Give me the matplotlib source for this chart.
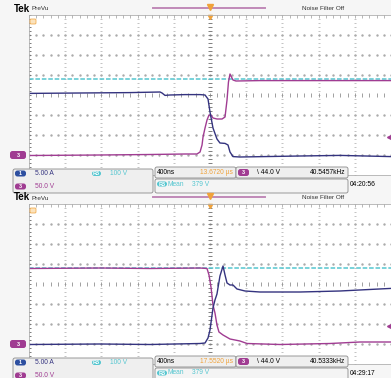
import numpy as np
import matplotlib
matplotlib.use('Agg')
import matplotlib.pyplot as plt
from matplotlib.patches import FancyBboxPatch

plt.rcParams['font.family'] = ['Liberation Sans', 'DejaVu Sans']

# scope settings
NS_PER_DIV = 400
AMP_PER_DIV = 5.0
VOLT_PER_DIV = 50.0
REF_PER_DIV = 100.0
GND_DIV = -3.0
REF_MEAN = 379.0
TRIG_LEVEL = 44.0

# turn-off capture (upper screen), time in ns
off_i_t = [-2000, -1436, -884, -552, -530, -497, -442, -276, -110, -55, -22, 0, 33, 77,
           110, 166, 199, 221, 254, 331, 994, 1436, 2000]
off_i_a = [15.4, 15.5, 15.6, 15.75, 15.5, 14.9, 15.0, 15.1, 15.1, 15.0, 14.0, 10.75, 6.75, 4.0,
           3.0, 2.9, 2.5, 0.75, -0.4, -0.5, -0.25, -0.1, -0.4]
off_v_t = [-2000, -1215, -663, -276, -144, -110, -88, -77, -55, -33, -11, 11, 33, 77, 133,
           166, 188, 204, 221, 254, 287, 552, 2000]
off_v_v = [-1.25, 0, 1.25, 2.5, 2.5, 7.5, 25, 45, 67.5, 87.5, 100, 100, 92.5, 90, 90,
           95, 137.5, 182.5, 202.5, 187.5, 185, 186, 186]

# turn-on capture (lower screen)
on_i_t = [-2000, -1215, -663, -110, -55, -22, 0, 33, 55, 77, 110, 144, 166, 188, 221, 254,
          298, 387, 552, 994, 1436, 2000]
on_i_a = [-0.125, 0, -0.125, 0.125, 0.25, 1.5, 3.5, 9, 11, 12.5, 17, 19.5, 17.25, 15.25, 14.75,
          14.75, 13.75, 13.25, 13, 13, 13.25, 13.9]
on_v_t = [-2000, -1215, -663, -110, -33, -11, 11, 33, 55, 77, 99, 144, 221, 331, 409, 773,
          1326, 1657, 2000]
on_v_v = [188.75, 190, 188.75, 190, 188.75, 172.5, 142.5, 97.5, 77.5, 47.5, 30, 22.5, 12.5,
          7.5, 1.25, -1.25, 1.25, 5, 5]

screens = [
    dict(it=off_i_t, ia=off_i_a, vt=off_v_t, vv=off_v_v, dy=0,
         pos='13.6720 \u00b5s', freq='40.5457kHz', clock='04:20:56'),
    dict(it=on_i_t, ia=on_i_a, vt=on_v_t, vv=on_v_v, dy=189,
         pos='17.5520 \u00b5s', freq='40.5333kHz', clock='04:29:17'),
]

NAVY = '#34337f'
PURPLE = '#a03c92'
CYAN = '#55c6d0'
ORANGE = '#f0a23a'
GRID = '#ababab'
W, H = 391, 378

fig = plt.figure(figsize=(W / 100, H / 100), dpi=100)
fig.patch.set_facecolor('#f6f6f6')

deco = fig.add_axes([0, 0, 1, 1], zorder=5)
deco.set_xlim(0, W)
deco.set_ylim(H, 0)
deco.axis('off')


def badge(x, y, w, h, label, color):
    deco.add_patch(FancyBboxPatch((x, y), w, h, boxstyle='round,pad=0,rounding_size=2.5',
                                  fc=color, ec='none'))
    deco.text(x + w / 2, y + h / 2 + 0.3, label, color='white', fontsize=4, ha='center',
              va='center', fontweight='bold')


def box(x, y, w, h, fc='#efefef'):
    deco.add_patch(FancyBboxPatch((x, y), w, h, boxstyle='round,pad=0,rounding_size=2',
                                  fc=fc, ec='#8a8a8a', lw=0.6))


for s in screens:
    dy = s['dy']
    top = 15 + dy
    ax = fig.add_axes([29 / W, 1 - (top + 160) / H, 362 / W, 160 / H], zorder=1)
    ax.set_xlim(-5 * NS_PER_DIV, 5 * NS_PER_DIV)
    ax.set_ylim(-4, 4)
    ax.set_xticks([])
    ax.set_yticks([])
    ax.set_facecolor('white')
    for sp in ax.spines.values():
        sp.set_color('#b0b0b0')
        sp.set_linewidth(0.6)

    # graticule
    xminor = np.arange(-2000, 2001, NS_PER_DIV / 5)
    yminor = np.arange(-4, 4.01, 0.2)
    for gy in [-3, -2, -1, 1, 2, 3]:
        ax.plot(xminor, np.full(len(xminor), gy), ls='none', marker='s', ms=0.7, color=GRID)
    for gx in [-1600, -1200, -800, -400, 400, 800, 1200, 1600]:
        ax.plot(np.full(len(yminor), gx), yminor, ls='none', marker='_', ms=1.8, mew=0.5,
                color=GRID)
    ax.plot(xminor, np.zeros(len(xminor)), ls='none', marker='|', ms=3, mew=0.6, color='#909090')
    ax.plot(np.zeros(len(yminor)), yminor, ls='none', marker='_', ms=3.5, mew=0.7,
            color='#808080')
    ax.plot(xminor, np.full(len(xminor), 3.96), ls='none', marker='|', ms=2.5, mew=0.6,
            color=GRID)
    ax.plot(np.full(len(yminor), -1995), yminor, ls='none', marker='_', ms=3, mew=0.6,
            color='#666666')

    # reference mean (R3), voltage (ch3) and current (ch1)
    ax.axhline(REF_MEAN / REF_PER_DIV + GND_DIV, color=CYAN, lw=1.1, ls=(0, (3, 1.2)))
    ax.plot(s['vt'], np.array(s['vv']) / VOLT_PER_DIV + GND_DIV, color=PURPLE, lw=1.0)
    ax.plot(s['it'], np.array(s['ia']) / AMP_PER_DIV + GND_DIV, color=NAVY, lw=1.0)

    # trigger level arrow and trigger position
    ax.plot(1990, TRIG_LEVEL / VOLT_PER_DIV + GND_DIV, marker='<', ms=4, color=PURPLE,
            clip_on=False)
    ax.plot(0, 3.9, marker='v', ms=3, color=ORANGE, clip_on=False)

    # header
    deco.text(14, 8.5 + dy, 'Tek', fontsize=7, fontweight='bold', va='center')
    deco.text(31, 9 + dy, 'PreVu', fontsize=4.6, va='center', color='#333333')
    deco.plot([153, 265], [8 + dy, 8 + dy], color='#c08ab8', lw=1.4)
    deco.plot(210, 7 + dy, marker='v', ms=5, color=ORANGE)
    deco.text(302, 8.5 + dy, 'Noise Filter Off', fontsize=4.6, va='center', color='#333333')
    deco.add_patch(FancyBboxPatch((30, 19 + dy), 6, 5, boxstyle='round,pad=0,rounding_size=1',
                                  fc='#fbe3bd', ec=ORANGE, lw=0.5))

    # ground marker
    badge(10, 151 + dy, 16, 8, '3', PURPLE)

    # readouts
    box(13, 169 + dy, 140, 24)
    badge(15, 170.5 + dy, 11, 6, '1', '#2d4fa0')
    deco.text(35, 173.5 + dy, '5.00 A', fontsize=4.8, va='center', color=NAVY)
    badge(15, 183.5 + dy, 11, 6, '3', PURPLE)
    deco.text(35, 186.5 + dy, '50.0 V', fontsize=4.8, va='center', color=PURPLE)
    badge(92, 171 + dy, 9, 5, 'R3', CYAN)
    deco.text(110, 173.5 + dy, '100 V', fontsize=4.8, va='center', color=CYAN)

    box(155, 167 + dy, 81, 11)
    deco.text(157, 172.5 + dy, '400ns', fontsize=4.8, va='center')
    deco.text(233, 172.5 + dy, s['pos'], fontsize=4.8, va='center', ha='right', color=ORANGE)
    box(236, 167 + dy, 112, 11)
    badge(238, 169 + dy, 11, 7, '3', PURPLE)
    deco.text(257, 172.5 + dy, '\\ 44.0 V', fontsize=4.8, va='center')
    deco.text(345, 172.5 + dy, s['freq'], fontsize=4.8, va='center', ha='right')
    box(155, 179 + dy, 193, 14, fc='#f4f4f4')
    badge(157, 181.5 + dy, 10, 5, 'R3', CYAN)
    deco.text(168, 184 + dy, 'Mean', fontsize=4.8, va='center', color=CYAN)
    deco.text(192, 184 + dy, '379 V', fontsize=4.8, va='center', color=CYAN)
    deco.text(350, 184.5 + dy, s['clock'], fontsize=4.8, va='center')

fig.savefig('out.png', dpi=100, facecolor=fig.get_facecolor())
